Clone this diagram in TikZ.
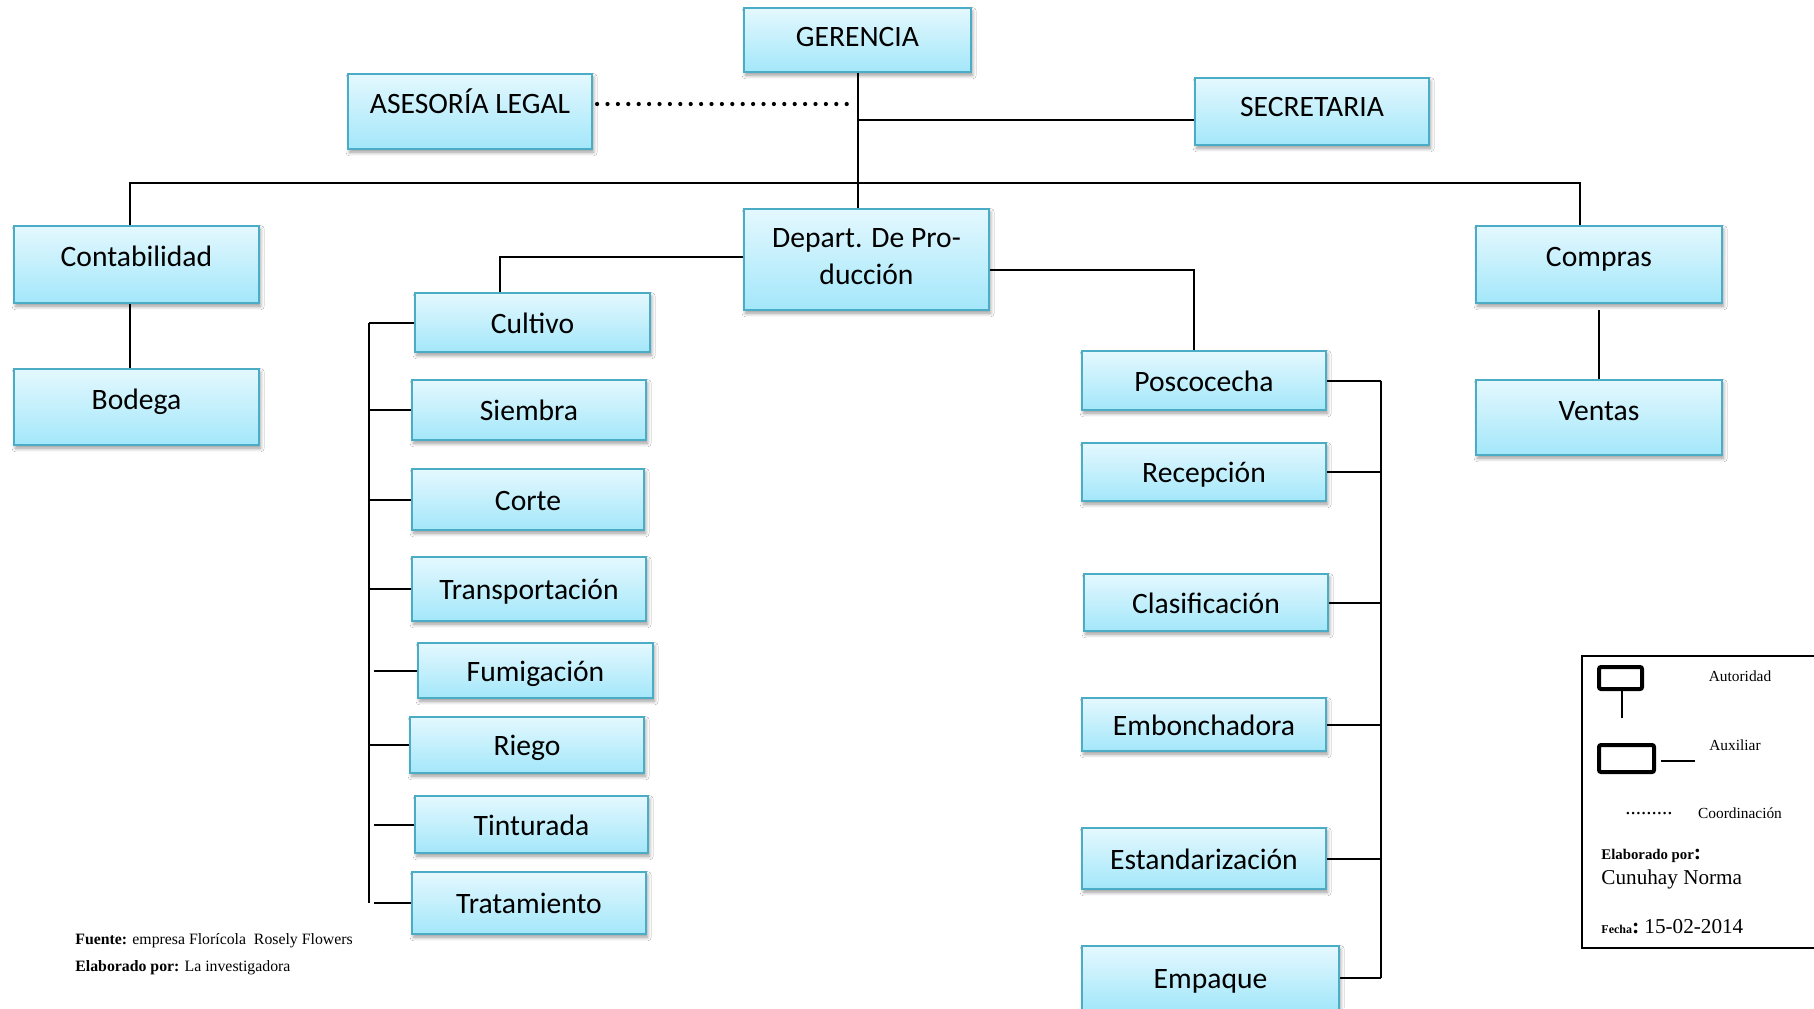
\documentclass[tikz,border=0pt]{standalone}
\usepackage{fontspec}
\setmainfont{Carlito}
\newfontfamily\serifface{Liberation Serif}
\usetikzlibrary{calc,shadows.blur}

\definecolor{boxedge}{HTML}{4BACC6}
\definecolor{boxtop}{HTML}{E4F8FE}
\definecolor{boxbottom}{HTML}{A3E7FA}

\tikzset{
  orgbox/.style={draw=boxedge, line width=1.1pt, top color=boxtop, bottom color=boxbottom,
    inner sep=0pt, font=\fontsize{14.8}{18.5}\selectfont,
    blur shadow={shadow xshift=0.8pt, shadow yshift=-1.6pt, shadow blur radius=1.8pt, shadow opacity=40}},
  lbl/.style={text height=13.5pt, text depth=#1},
  lbl/.default=3pt,
  sz/.style 2 args={minimum width=#1, minimum height=#2},
  link/.style={line width=1pt, black},
  coordline/.style={line width=2.1pt, black, line cap=round, dash pattern=on 0pt off 5.2pt},
  keybox/.style={draw=black, line width=2pt, rounded corners=1pt, inner sep=0pt},
  keytext/.style={font=\serifface\fontsize{7.7}{9}\selectfont, inner sep=0pt},
  notetext/.style={font=\serifface\fontsize{7.9}{9}\selectfont, inner sep=0pt, anchor=west},
}

\begin{document}
\begin{tikzpicture}[x=0.5pt, y=-0.5pt]
  \fill[white] (0,0) rectangle (1814,1008);
  \useasboundingbox (0,0) rectangle (1814,1008);

  % top level
  \node[orgbox, lbl=7pt, sz={113.5pt}{32pt}] (ger) at (857.5,40) {GERENCIA};
  \node[orgbox, lbl=11.6pt, sz={122pt}{37.5pt}] (ase) at (470,111.5) {ASESORÍA LEGAL};
  \node[orgbox, lbl=8.8pt, sz={117pt}{33.5pt}] (sec) at (1312,111.5) {SECRETARIA};

  % second level
  \node[orgbox, lbl=11.6pt, sz={122.5pt}{38.5pt}] (cont) at (136.5,264.5) {Contabilidad};
  \node[orgbox, lbl=11.1pt, sz={122.5pt}{38pt}] (bod) at (136.5,407) {Bodega};
  \node[orgbox, lbl=11.6pt, sz={123pt}{38.5pt}] (comp) at (1599,264.5) {Compras};
  \node[orgbox, lbl=10.5pt, sz={123pt}{37.5pt}] (vent) at (1599,417.5) {Ventas};
  \node[orgbox, align=center, sz={122.5pt}{50.5pt}] (dep) at (866.5,259.5)
    {Depart. De Pro-\\ducción\rule[-3.5pt]{0pt}{0pt}};

  % production, field side
  \node[orgbox, lbl, sz={117.5pt}{29.5pt}] (cult) at (532.5,322.5) {Cultivo};
  \node[orgbox, lbl, sz={117pt}{30pt}] (siem) at (529,410) {Siembra};
  \node[orgbox, lbl, sz={116pt}{30.5pt}] (cort) at (528,499.5) {Corte};
  \node[orgbox, lbl, sz={117pt}{32pt}] (trans) at (529,589) {Transportación};
  \node[orgbox, lbl, sz={117.5pt}{27.5pt}] (fum) at (535.5,670.5) {Fumigación};
  \node[orgbox, lbl, sz={117pt}{28pt}] (rieg) at (527,745) {Riego};
  \node[orgbox, lbl, sz={116.5pt}{28.5pt}] (tint) at (531.5,824.5) {Tinturada};
  \node[orgbox, lbl, sz={117pt}{31pt}] (trat) at (529,903) {Tratamiento};

  % production, post-harvest side
  \node[orgbox, lbl, sz={122pt}{29.5pt}] (posc) at (1204,380.5) {Poscocecha};
  \node[orgbox, lbl, sz={122pt}{29pt}] (recep) at (1204,472) {Recepción};
  \node[orgbox, lbl, sz={122pt}{28.5pt}] (clas) at (1206,602.5) {Clasificación};
  \node[orgbox, lbl, sz={122pt}{26.5pt}] (embo) at (1204,724.5) {Embonchadora};
  \node[orgbox, lbl, sz={122pt}{30.5pt}] (esta) at (1204,858.5) {Estandarización};
  \node[orgbox, lbl, sz={128.5pt}{32pt}] (empa) at (1210.5,978) {Empaque};

  % helper coordinates for the bus lines
  \coordinate (busL) at (130,183);
  \coordinate (busR) at (1580,183);
  \coordinate (lbx) at (369,0);
  \coordinate (rbx) at (1381,0);
  \coordinate (cultx) at (500,0);
  \coordinate (poscx) at (1194,0);

  % trunk and staff links
  \draw[link] (ger.south) -- (ger.south |- dep.north);
  \draw[link] (sec.west |- 0,120) -- (ger.south |- 0,120);
  \draw[coordline] ($(ase.east)+(4,-7.5)$) -- ($(ger.south |- 0,104)+(-3,0)$);

  % main horizontal bus
  \draw[link] (cont.north -| busL) -- (busL) -- (busR) -- (comp.north -| busR);
  \draw[link] (cont.south -| busL) -- (bod.north -| busL);
  \draw[link] ($(comp.south)+(0,6)$) -- (vent.north);

  % production branches
  \draw[link] ($(dep.west)+(0,-2.5)$) -| (cult.north -| cultx);
  \draw[link] ($(dep.east)+(0,10.5)$) -| (posc.north -| poscx);

  % field side bracket
  \draw[link] (cult.west -| lbx) -- (trat.west -| lbx);
  \draw[link] (cult.west) -- (cult.west -| lbx);
  \draw[link] (siem.west) -- (siem.west -| lbx);
  \draw[link] (cort.west) -- (cort.west -| lbx);
  \draw[link] (trans.west) -- (trans.west -| lbx);
  \draw[link] (fum.west) -- ($(fum.west -| lbx)+(5,0)$);
  \draw[link] (rieg.west) -- (rieg.west -| lbx);
  \draw[link] (tint.west) -- ($(tint.west -| lbx)+(5,0)$);
  \draw[link] (trat.west) -- ($(trat.west -| lbx)+(5,0)$);

  % post-harvest bracket
  \draw[link] (posc.east -| rbx) -- (empa.east -| rbx);
  \draw[link] (posc.east) -- (posc.east -| rbx);
  \draw[link] (recep.east) -- (recep.east -| rbx);
  \draw[link] (clas.east) -- (clas.east -| rbx);
  \draw[link] (embo.east) -- (embo.east -| rbx);
  \draw[link] (esta.east) -- (esta.east -| rbx);
  \draw[link] (empa.east) -- (empa.east -| rbx);

  % legend
  \draw[line width=0.8pt] (1814,656) -- (1582,656) -- (1582,948) -- (1814,948);
  \node[keybox, minimum width=21.5pt, minimum height=11pt] (kauth) at (1620.5,678) {};
  \coordinate (kauthend) at (1622,718);
  \draw[line width=1pt] (kauth.south -| kauthend) -- (kauthend);
  \node[keytext] (tauth) at (1740,676) {Autoridad};
  \node[keybox, minimum width=27.5pt, minimum height=13.5pt] (kaux) at (1626.5,758.5) {};
  \coordinate (kauxend) at (1695,761);
  \draw[line width=1pt] ($(kaux.east)+(5,2.5)$) -- (kauxend);
  \node[keytext] (taux) at (1735,745) {Auxiliar};
  \node[keytext, font=\serifface\fontsize{10.5}{12}\selectfont] (kdots) at (1649,814) {.........};
  \node[keytext] (tcoord) at (1740,813) {Coordinación};
  \node[inner sep=0pt, anchor=west, font=\serifface] (elab) at (1601,856)
    {\fontsize{7.4}{9}\selectfont\bfseries Elaborado por{\fontsize{11}{11}\selectfont:}};
  \node[inner sep=0pt, anchor=west, font=\serifface\fontsize{10.6}{12}\selectfont] (autor) at (1601,879) {Cunuhay Norma};
  \node[inner sep=0pt, anchor=west, font=\serifface] (fecha) at (1601,927)
    {{\fontsize{6}{7}\selectfont\bfseries Fecha}{\fontsize{11}{11}\selectfont\bfseries:}\ {\fontsize{10.6}{12}\selectfont 15-02-2014}};

  % source notes
  \node[notetext] (fuente) at (75,941) {\textbf{Fuente:} empresa Florícola\ \ Rosely Flowers};
  \node[notetext] (elabnote) at (75,968) {\textbf{Elaborado por:} La investigadora};
\end{tikzpicture}
\end{document}
